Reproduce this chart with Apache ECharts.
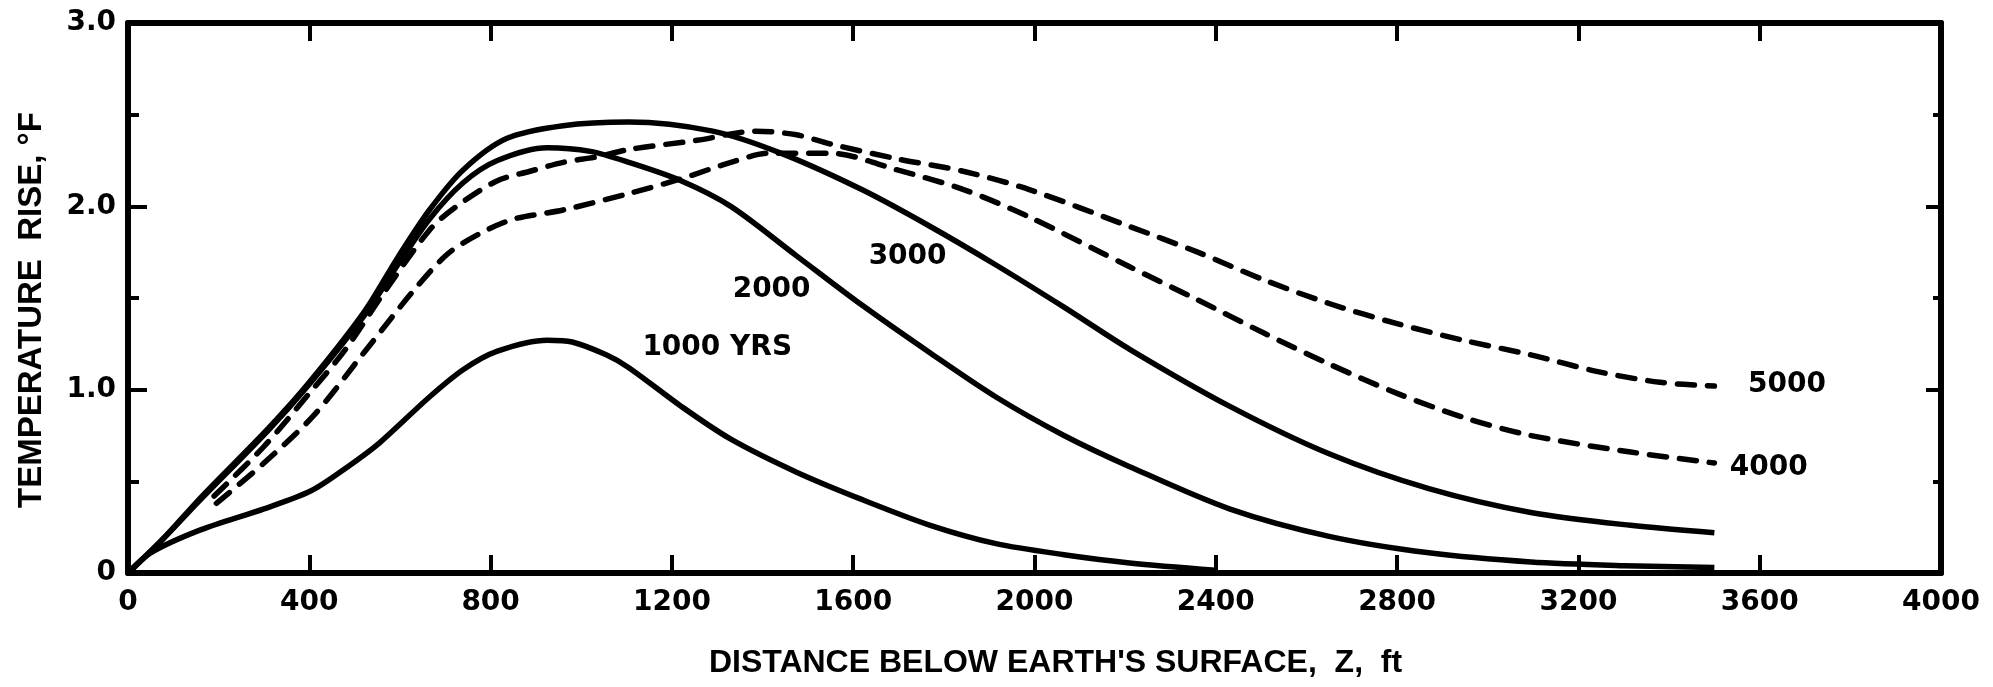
<!DOCTYPE html>
<html>
<head>
<meta charset="utf-8">
<script src="https://cdn.jsdelivr.net/npm/echarts@6/dist/echarts.min.js"></script>
<style>
html,body{margin:0;padding:0;background:#fff;}
#chart{width:1993px;height:687px;}
</style>
</head>
<body>
<div id="chart"></div>
<script>
// ---- data (distance below surface, ft ; temperature rise, °F) ----
const seriesNames = ['1000 YRS', '2000', '3000', '4000', '5000'];

const depth1000 = [0, 50, 160, 300, 405, 485, 555, 665, 740, 815, 925, 980, 1055, 1105, 1220, 1330, 1475, 1620, 1770, 1915, 2065, 2210, 2400];
const temp1000  = [0, 0.11, 0.235, 0.35, 0.45, 0.58, 0.71, 0.96, 1.11, 1.21, 1.27, 1.26, 1.19, 1.12, 0.91, 0.73, 0.55, 0.40, 0.26, 0.16, 0.10, 0.055, 0.015];

const depth2000 = [0, 75, 160, 310, 400, 520, 595, 665, 740, 815, 925, 1020, 1105, 1220, 1330, 1475, 1620, 1770, 1915, 2065, 2210, 2430, 2650, 2870, 3095, 3300, 3500];
const temp2000  = [0, 0.18, 0.40, 0.78, 1.03, 1.40, 1.68, 1.93, 2.13, 2.25, 2.32, 2.30, 2.24, 2.14, 2.00, 1.73, 1.46, 1.20, 0.96, 0.75, 0.58, 0.35, 0.20, 0.11, 0.06, 0.04, 0.03];

const depth3000 = [0, 75, 160, 310, 400, 520, 595, 665, 740, 835, 960, 1105, 1290, 1440, 1620, 1770, 1915, 2065, 2210, 2430, 2650, 2870, 3095, 3315, 3500];
const temp3000  = [0, 0.18, 0.41, 0.79, 1.04, 1.42, 1.72, 1.98, 2.20, 2.37, 2.44, 2.46, 2.41, 2.29, 2.09, 1.89, 1.68, 1.45, 1.22, 0.91, 0.65, 0.46, 0.33, 0.26, 0.22];

const depth4000 = [195, 300, 410, 520, 630, 705, 775, 850, 960, 1105, 1220, 1330, 1415, 1550, 1695, 1845, 1990, 2210, 2360, 2505, 2650, 2800, 2945, 3095, 3315, 3500];
const temp4000  = [0.38, 0.60, 0.86, 1.20, 1.54, 1.74, 1.85, 1.93, 1.98, 2.07, 2.15, 2.24, 2.29, 2.29, 2.20, 2.09, 1.94, 1.67, 1.49, 1.31, 1.14, 0.98, 0.85, 0.75, 0.66, 0.60];

const depth5000 = [190, 300, 400, 480, 565, 665, 725, 815, 885, 960, 1035, 1105, 1255, 1385, 1475, 1550, 1695, 1845, 1990, 2210, 2360, 2505, 2650, 2800, 2945, 3095, 3240, 3380, 3500];
const temp5000  = [0.42, 0.69, 0.98, 1.22, 1.53, 1.87, 2.00, 2.14, 2.19, 2.24, 2.27, 2.31, 2.36, 2.41, 2.39, 2.34, 2.26, 2.19, 2.09, 1.89, 1.75, 1.60, 1.47, 1.36, 1.27, 1.19, 1.10, 1.04, 1.02];

// curve label anchors (data coordinates)
const labelDepth = [1300, 1420, 1720, 3620, 3660];
const labelTemp  = [1.23, 1.545, 1.725, 0.575, 1.025];

// tick labels
const xTickLabels = ['0', '400', '800', '1200', '1600', '2000', '2400', '2800', '3200', '3600', '4000'];
const yTickLabels = ['0', '1.0', '2.0', '3.0'];

const xTitle = "DISTANCE BELOW EARTH'S SURFACE,  Z,  ft";
const yTitle = 'TEMPERATURE  RISE, °F';

// ---- build ----
const depths = [depth1000, depth2000, depth3000, depth4000, depth5000];
const temps  = [temp1000, temp2000, temp3000, temp4000, temp5000];
const dashed = [false, false, false, true, true];

const numFont = { fontFamily: 'DejaVu Sans', fontWeight: 'bold', fontSize: 28, color: '#000' };
const titleFont = { fontFamily: 'Liberation Sans', fontWeight: 'bold', color: '#000' };

const series = seriesNames.map((name, i) => ({
  name: name,
  type: 'line',
  xAxisIndex: 0,
  yAxisIndex: 0,
  smooth: 0.3,
  showSymbol: false,
  symbol: 'none',
  silent: true,
  data: depths[i].map((z, k) => [z, temps[i][k]]),
  lineStyle: {
    color: '#000',
    width: 5.5,
    type: dashed[i] ? [17, 13] : 'solid',
    cap: dashed[i] ? 'round' : 'butt',
    join: 'round'
  },
  markPoint: {
    silent: true,
    symbol: 'rect',
    symbolSize: 1,
    itemStyle: { color: 'rgba(0,0,0,0)' },
    label: Object.assign({ show: true, position: 'inside', formatter: name }, numFont),
    data: [{ coord: [labelDepth[i], labelTemp[i]] }]
  }
}));

const axisLine = { show: true, onZero: false, lineStyle: { color: '#000', width: 6 } };
const tickStyle = { color: '#000', width: 4 };

const option = {
  animation: false,
  backgroundColor: '#fff',
  grid: { left: 128, right: 52, top: 23, bottom: 114, containLabel: false },
  xAxis: [
    {
      type: 'value', min: 0, max: 4000, interval: 400, position: 'bottom',
      axisLine: axisLine,
      axisTick: { show: true, inside: true, length: 18, lineStyle: tickStyle },
      axisLabel: Object.assign({ margin: 16, formatter: v => xTickLabels[Math.round(v / 400)] }, numFont),
      splitLine: { show: false },
      name: xTitle,
      nameLocation: 'middle',
      nameGap: 74,
      nameTextStyle: Object.assign({ fontSize: 32, padding: [0, 0, 0, 42] }, titleFont)
    },
    {
      type: 'value', min: 0, max: 4000, interval: 400, position: 'top',
      axisLine: axisLine,
      axisTick: { show: true, inside: true, length: 18, lineStyle: tickStyle },
      axisLabel: { show: false },
      splitLine: { show: false }
    }
  ],
  yAxis: [
    {
      type: 'value', min: 0, max: 3, interval: 1, position: 'left',
      axisLine: axisLine,
      axisTick: { show: true, inside: true, length: 19, lineStyle: tickStyle },
      minorTick: { show: true, splitNumber: 2, length: 11, lineStyle: tickStyle },
      axisLabel: Object.assign({ margin: 12, formatter: v => yTickLabels[Math.round(v)] }, numFont),
      splitLine: { show: false },
      minorSplitLine: { show: false },
      name: yTitle,
      nameLocation: 'middle',
      nameGap: 80,
      nameRotate: 90,
      nameTextStyle: Object.assign({ fontSize: 33, padding: [0, 24, 0, 0] }, titleFont)
    },
    {
      type: 'value', min: 0, max: 3, interval: 1, position: 'right',
      axisLine: axisLine,
      axisTick: { show: true, inside: true, length: 15, lineStyle: tickStyle },
      minorTick: { show: true, splitNumber: 2, length: 8, lineStyle: tickStyle },
      axisLabel: { show: false },
      splitLine: { show: false },
      minorSplitLine: { show: false }
    }
  ],
  series: series
};

const chart = echarts.init(document.getElementById('chart'), null, { renderer: 'canvas' });
chart.setOption(option);
</script>
</body>
</html>
